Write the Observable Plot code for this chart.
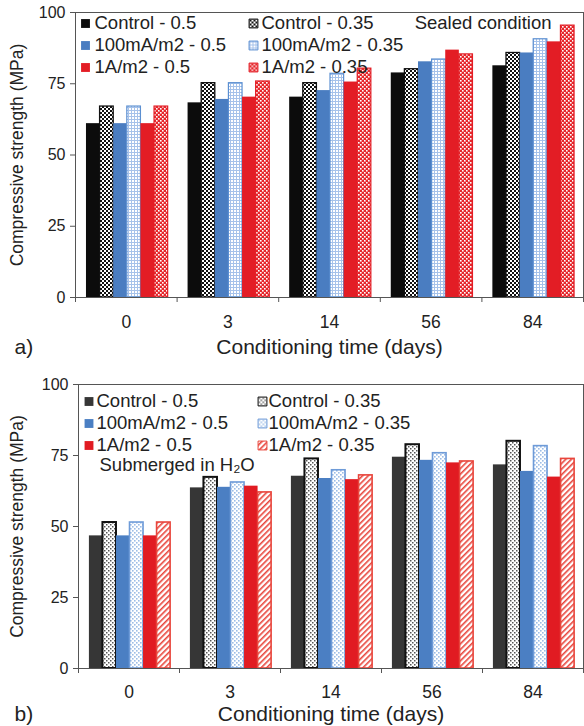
<!DOCTYPE html>
<html>
<head>
<meta charset="utf-8">
<script src="https://cdn.jsdelivr.net/npm/d3@7"></script>
<script src="https://cdn.jsdelivr.net/npm/@observablehq/plot@0.6"></script>
<style>
  body { margin: 0; background: #fff; }
  #page { width: 584px; }
  #page svg { display: block; }
</style>
</head>
<body>
<div id="page"></div>
<script>
// ---------- data ----------
const days = ["0", "3", "14", "56", "84"];
const series = ["Control - 0.5", "Control - 0.35", "100mA/m2 - 0.5", "100mA/m2 - 0.35", "1A/m2 - 0.5", "1A/m2 - 0.35"];
const yTicks = [0, 25, 50, 75, 100];

// a) sealed condition (MPa), one value per day
const sealedControl05   = [61.0, 68.3, 70.3, 78.8, 81.3];
const sealedControl035  = [67.0, 75.2, 75.2, 80.1, 85.8];
const sealed100mA05     = [61.0, 69.5, 72.6, 82.7, 85.8];
const sealed100mA035    = [67.0, 75.2, 78.5, 83.5, 90.6];
const sealed1A05        = [61.0, 70.3, 75.6, 86.8, 89.7];
const sealed1A035       = [67.0, 75.8, 80.3, 85.3, 95.4];

// b) submerged in water (MPa)
const subControl05  = [46.7, 63.6, 67.7, 74.4, 71.7];
const subControl035 = [51.4, 67.3, 73.8, 78.8, 80.0];
const sub100mA05    = [46.7, 63.8, 66.9, 73.3, 69.4];
const sub100mA035   = [51.4, 65.5, 69.8, 75.8, 78.3];
const sub1A05       = [46.7, 64.2, 66.5, 72.4, 67.4];
const sub1A035      = [51.4, 62.0, 68.0, 72.9, 73.8];

const yLabel = "Compressive strength (MPa)";
const xLabel = "Conditioning time (days)";

// ---------- styling ----------
const FONT = "'Liberation Sans', Arial, Helvetica, sans-serif";
const TXT = "#222";

function defsMark(prefix, variant) {
  return () => {
    const defs = document.createElementNS("http://www.w3.org/2000/svg", "defs");
    if (variant === "a") {
      defs.innerHTML = `
        <pattern id="${prefix}-ck" width="4" height="4" patternUnits="userSpaceOnUse">
          <rect width="4" height="4" fill="#ffffff"/>
          <rect x="0" y="0" width="2" height="2" fill="#111"/>
          <rect x="2" y="2" width="2" height="2" fill="#111"/>
        </pattern>
        <pattern id="${prefix}-bl" width="3" height="3" patternUnits="userSpaceOnUse">
          <rect width="3" height="3" fill="#a6c2ea"/>
          <rect x="0" y="0" width="2" height="2" fill="#ffffff"/>
        </pattern>
        <pattern id="${prefix}-rd" width="4" height="4" patternUnits="userSpaceOnUse">
          <rect width="4" height="4" fill="#e6262b"/>
          <rect x="0" y="0" width="1.6" height="1.6" fill="#ffffff"/>
          <rect x="2" y="2" width="1.6" height="1.6" fill="#ffffff"/>
        </pattern>`;
    } else {
      defs.innerHTML = `
        <pattern id="${prefix}-ck" width="4" height="4" patternUnits="userSpaceOnUse">
          <rect width="4" height="4" fill="#ffffff"/>
          <rect x="0" y="0" width="1.5" height="1.5" fill="#555"/>
          <rect x="2" y="2" width="1.5" height="1.5" fill="#555"/>
        </pattern>
        <pattern id="${prefix}-bl" width="4" height="4" patternUnits="userSpaceOnUse">
          <rect width="4" height="4" fill="#ffffff"/>
          <rect x="0" y="0" width="1.6" height="1.6" fill="#9dbde6"/>
          <rect x="2" y="2" width="1.6" height="1.6" fill="#9dbde6"/>
        </pattern>
        <pattern id="${prefix}-rd" width="4" height="4" patternUnits="userSpaceOnUse" patternTransform="rotate(45)">
          <rect width="4" height="4" fill="#ffffff"/>
          <rect x="0" y="0" width="1.6" height="4" fill="#e8453c"/>
        </pattern>`;
    }
    return defs;
  };
}

function seriesStyles(prefix, variant) {
  if (variant === "a") {
    return [
      {fill: "#0c0c0c", stroke: "none", sw: 0},
      {fill: `url(#${prefix}-ck)`, stroke: "#111", sw: 1.3},
      {fill: "#4a7dc1", stroke: "none", sw: 0},
      {fill: `url(#${prefix}-bl)`, stroke: "#5b8fd1", sw: 1.2},
      {fill: "#e31d25", stroke: "none", sw: 0},
      {fill: `url(#${prefix}-rd)`, stroke: "#e31d25", sw: 1.2}
    ];
  }
  return [
    {fill: "#363636", stroke: "none", sw: 0},
    {fill: `url(#${prefix}-ck)`, stroke: "#111", sw: 2},
    {fill: "#4b7fc3", stroke: "none", sw: 0},
    {fill: `url(#${prefix}-bl)`, stroke: "#6e9bd8", sw: 1.6},
    {fill: "#e11b22", stroke: "none", sw: 0},
    {fill: `url(#${prefix}-rd)`, stroke: "#e8453c", sw: 1.6}
  ];
}

function makeChart(cfg) {
  const {values, prefix, variant, height, marginLeft, marginTop, marginBottom,
         legend, note, panel, yLabelDx, tickPad, titleDy} = cfg;
  const PAD = 0.108, W = 0.134;
  const rows = [];
  days.forEach((d, i) => series.forEach((s, j) => rows.push({day: d, i, s, j, v: values[j][i]})));
  const styles = seriesStyles(prefix, variant);

  const marks = [defsMark(prefix, variant)];
  series.forEach((s, j) => {
    const st = styles[j];
    marks.push(Plot.rect(rows.filter(r => r.j === j), {
      x1: r => r.i + PAD + r.j * W,
      x2: r => r.i + PAD + (r.j + 1) * W,
      y1: 0, y2: "v",
      fill: st.fill, stroke: st.stroke, strokeWidth: st.sw
    }));
  });

  marks.push(Plot.frame({stroke: "#555", strokeWidth: 1}));
  marks.push(Plot.axisY({ticks: yTicks, tickSize: 5, tickPadding: 5, label: null, fontSize: 16, stroke: "#555"}));
  marks.push(Plot.axisX({ticks: d3.range(days.length + 1), tickSize: 5, tickFormat: () => "", label: null, stroke: "#555"}));
  marks.push(Plot.axisX({ticks: days.map((d, i) => i + 0.5), tickSize: 0, tickPadding: tickPad,
                         tickFormat: v => days[Math.floor(v)], label: null, fontSize: 17.5}));

  // axis titles & panel letter
  marks.push(Plot.text([yLabel], {frameAnchor: "left", dx: yLabelDx, rotate: -90, textAnchor: "middle", lineAnchor: "middle",
    text: d => d, fontSize: 17.5, fill: TXT}));
  marks.push(Plot.text([xLabel], {frameAnchor: "bottom", dy: titleDy, lineAnchor: "middle", textAnchor: "middle",
    text: d => d, fontSize: 21, fill: TXT}));
  marks.push(Plot.text([panel], {frameAnchor: "bottom-left", dx: -marginLeft + 14, dy: titleDy, textAnchor: "start", lineAnchor: "middle",
    text: d => d, fontSize: 21, fill: TXT}));

  // legend
  series.forEach((s, k) => {
    const col = k % 2, row = Math.floor(k / 2);
    const st = styles[k];
    const dy = legend.dy0 + row * legend.rowGap;
    marks.push(Plot.dot([s], {frameAnchor: "top-left", dx: legend.swx[col], dy, symbol: "square", r: 5,
      fill: st.fill, stroke: st.stroke === "none" ? st.fill : st.stroke, strokeWidth: st.sw ? 1 : 0}));
    marks.push(Plot.text([s], {frameAnchor: "top-left", dx: legend.tx[col], dy, textAnchor: "start", lineAnchor: "middle",
      text: d => d, fontSize: 18.5, fill: TXT}));
  });

  // annotation
  marks.push(Plot.text([note.text], {frameAnchor: note.anchor, dx: note.dx, dy: note.dy, textAnchor: note.textAnchor,
    lineAnchor: "middle", text: d => d, fontSize: 18.5, fill: TXT}));

  return Plot.plot({
    width: 584, height, marginLeft, marginRight: 1, marginTop, marginBottom,
    x: {domain: [0, days.length], axis: null},
    y: {domain: [0, 100], axis: null},
    style: {fontFamily: FONT, fontSize: "16px", color: TXT, background: "#fff"},
    marks
  });
}

const page = document.getElementById("page");

page.appendChild(makeChart({
  values: [sealedControl05, sealedControl035, sealed100mA05, sealed100mA035, sealed1A05, sealed1A035],
  prefix: "pa", variant: "a",
  height: 362, marginLeft: 75, marginTop: 12, marginBottom: 65,
  yLabelDx: -58, tickPad: 18, titleDy: 50, panel: "a)",
  legend: {swx: [10, 178], tx: [19, 186], dy0: 11, rowGap: 22},
  note: {text: "Sealed condition", anchor: "top-right", dx: -32, dy: 11, textAnchor: "end"}
}));

page.appendChild(makeChart({
  values: [subControl05, subControl035, sub100mA05, sub100mA035, sub1A05, sub1A035],
  prefix: "pb", variant: "b",
  height: 364, marginLeft: 78, marginTop: 22, marginBottom: 58,
  yLabelDx: -61, tickPad: 17, titleDy: 46, panel: "b)",
  legend: {swx: [10.5, 184], tx: [18, 190], dy0: 17, rowGap: 22},
  note: {text: "Submerged in H\u2082O", anchor: "top-left", dx: 21, dy: 81, textAnchor: "start"}
}));
</script>
</body>
</html>
